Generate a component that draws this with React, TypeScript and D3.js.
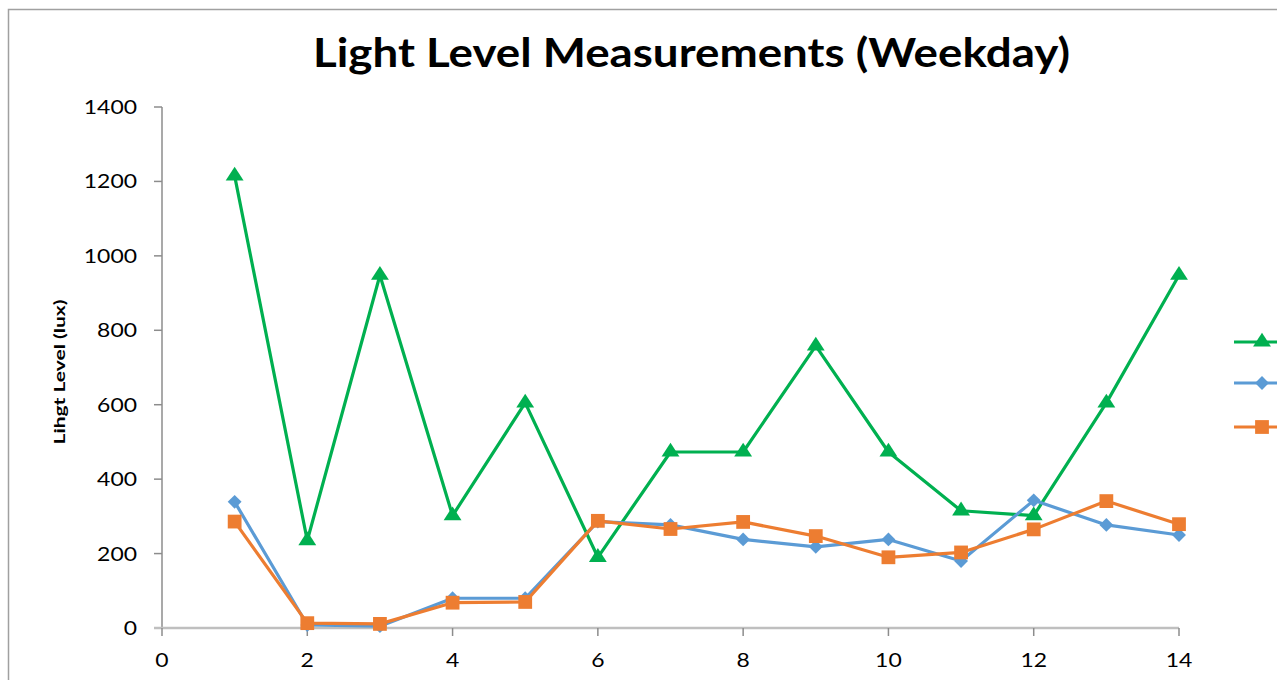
import React from "react";
import * as d3 from "d3";

const days = [1, 2, 3, 4, 5, 6, 7, 8, 9, 10, 11, 12, 13, 14];
const seriesA = [1215, 235, 948, 302, 605, 190, 473, 473, 758, 473, 315, 302, 605, 948];
const seriesB = [339, 8, 5, 80, 80, 286, 277, 238, 218, 238, 180, 343, 277, 250];
const seriesC = [286, 13, 11, 68, 70, 288, 266, 285, 247, 190, 203, 265, 341, 279];
const xTicks = [0, 2, 4, 6, 8, 10, 12, 14];
const yTicks = [0, 200, 400, 600, 800, 1000, 1200, 1400];
const title = "Light Level Measurements (Weekday)";
const yLabel = "Lihgt Level (lux)";

const W = 1277;
const H = 680;

export default function App() {
  const x = d3.scaleLinear().domain([0, 14]).range([162, 1179]);
  const y = d3.scaleLinear().domain([0, 1400]).range([628, 107]);
  const line = d3
    .line<number>()
    .x((_, i) => x(days[i]))
    .y((v) => y(v));

  const tri = d3.symbol().type(d3.symbolTriangle).size(110)() as string;
  const dia = d3.symbol().type(d3.symbolSquare).size(96)() as string;
  const sq = d3.symbol().type(d3.symbolSquare).size(190)() as string;

  const series = [
    { vals: seriesA, color: "#00b050", path: tri, tf: "scale(1.12,1)", ly: 342 },
    { vals: seriesB, color: "#5b9bd5", path: dia, tf: "rotate(45)", ly: 383 },
    { vals: seriesC, color: "#ed7d31", path: sq, tf: "", ly: 427 },
  ];

  const font = "Lato, 'Open Sans', sans-serif";
  const digitW = 13.3;

  return (
    <svg
      width={W}
      height={H}
      style={{ position: "fixed", left: 0, top: 0, background: "#fff" }}
    >
      <rect x={0} y={0} width={W} height={H} fill="#fff" />
      <rect x={8.5} y={9.5} width={1400} height={800} fill="none" stroke="#a0a0a0" strokeWidth={1.5} />
      <text
        x={313}
        y={67}
        textAnchor="start"
        fontFamily={font}
        fontWeight="bold"
        fontSize={40}
        fill="#000"
        textLength={757}
        lengthAdjust="spacingAndGlyphs"
      >
        {title}
      </text>
      <text
        transform={`translate(65,372) rotate(-90)`}
        textAnchor="middle"
        fontFamily={font}
        fontWeight="bold"
        fontSize={15}
        fill="#000"
        textLength={145}
        lengthAdjust="spacingAndGlyphs"
      >
        {yLabel}
      </text>
      {/* y axis */}
      <line x1={162} x2={162} y1={y(1400)} y2={y(0)} stroke="#8c8c8c" strokeWidth={1.5} />
      {yTicks.map((t) => (
        <g key={"y" + t}>
          <line x1={154} x2={162} y1={y(t)} y2={y(t)} stroke="#8c8c8c" strokeWidth={1.5} />
          <text
            x={137}
            y={y(t) + 7}
            textAnchor="end"
            fontFamily={font}
            fontSize={20}
            fill="#000"
            textLength={String(t).length * digitW}
            lengthAdjust="spacingAndGlyphs"
          >
            {t}
          </text>
        </g>
      ))}
      {/* x axis */}
      <line x1={154} x2={x(14)} y1={628} y2={628} stroke="#bfbfbf" strokeWidth={2.5} />
      {xTicks.map((t) => (
        <g key={"x" + t}>
          <line x1={x(t)} x2={x(t)} y1={628} y2={636} stroke="#8c8c8c" strokeWidth={1.5} />
          <text
            x={x(t)}
            y={667}
            textAnchor="middle"
            fontFamily={font}
            fontSize={20}
            fill="#000"
            textLength={String(t).length * digitW}
            lengthAdjust="spacingAndGlyphs"
          >
            {t}
          </text>
        </g>
      ))}
      {series.map((s, si) => (
        <g key={"s" + si}>
          <path d={line(s.vals) as string} fill="none" stroke={s.color} strokeWidth={3.2} strokeLinejoin="round" />
          {s.vals.map((v, i) => (
            <path
              key={i}
              d={s.path}
              transform={`translate(${x(days[i])},${y(v)}) ${s.tf}`}
              fill={s.color}
            />
          ))}
        </g>
      ))}
      {/* legend (names fall outside the visible area) */}
      {series.map((s, si) => (
        <g key={"l" + si}>
          <line x1={1234} x2={1290} y1={s.ly} y2={s.ly} stroke={s.color} strokeWidth={3.2} />
          <path d={s.path} transform={`translate(1262,${s.ly}) ${s.tf}`} fill={s.color} />
        </g>
      ))}
    </svg>
  );
}
